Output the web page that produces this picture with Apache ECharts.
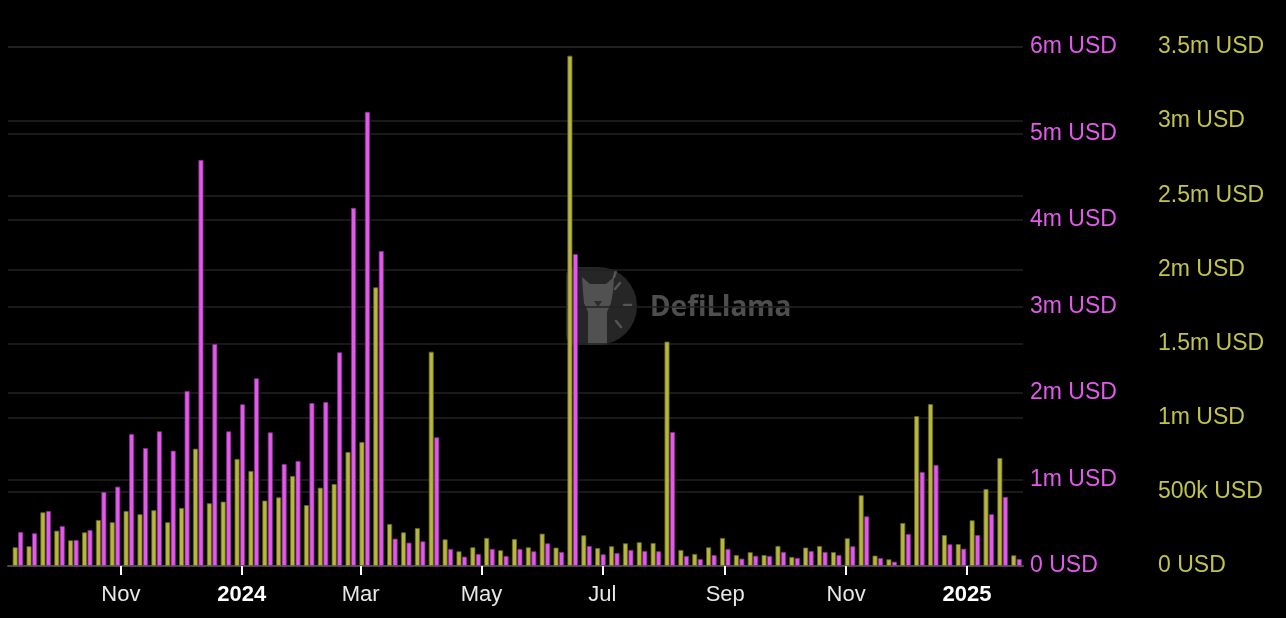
<!DOCTYPE html>
<html>
<head>
<meta charset="utf-8">
<style>
  html, body { margin: 0; padding: 0; background: #000; }
  #chart { width: 1286px; height: 618px; }
</style>
<script src="https://cdn.jsdelivr.net/npm/echarts@6/dist/echarts.min.js"></script>
</head>
<body>
<div id="chart"></div>
<script>
// Weekly dates (UTC)
const weeks = [
  '2023-09-10','2023-09-17','2023-09-24','2023-10-01','2023-10-08','2023-10-15','2023-10-22','2023-10-29',
  '2023-11-05','2023-11-12','2023-11-19','2023-11-26','2023-12-03','2023-12-10','2023-12-17','2023-12-24','2023-12-31',
  '2024-01-07','2024-01-14','2024-01-21','2024-01-28','2024-02-04','2024-02-11','2024-02-18','2024-02-25',
  '2024-03-03','2024-03-10','2024-03-17','2024-03-24','2024-03-31','2024-04-07','2024-04-14','2024-04-21','2024-04-28',
  '2024-05-05','2024-05-12','2024-05-19','2024-05-26','2024-06-02','2024-06-09','2024-06-16','2024-06-23','2024-06-30',
  '2024-07-07','2024-07-14','2024-07-21','2024-07-28','2024-08-04','2024-08-11','2024-08-18','2024-08-25',
  '2024-09-01','2024-09-08','2024-09-15','2024-09-22','2024-09-29','2024-10-06','2024-10-13','2024-10-20','2024-10-27',
  '2024-11-03','2024-11-10','2024-11-17','2024-11-24','2024-12-01','2024-12-08','2024-12-15','2024-12-22','2024-12-29',
  '2025-01-05','2025-01-12','2025-01-19','2025-01-26'
];

// Olive series (right outer axis), USD
const oliveValues = [
  126000,133000,362000,238000,173000,227000,310000,295000,
  371000,349000,376000,295000,391000,791000,423000,434000,722000,
  641000,441000,463000,607000,411000,528000,553000,769000,
  836000,1879000,283000,227000,256000,1445000,180000,99000,126000,
  189000,106000,182000,126000,218000,124000,3441000,207000,121000,
  133000,153000,160000,155000,1513000,108000,81000,126000,
  189000,74000,93000,74000,135000,61000,124000,135000,94000,
  187000,477000,70000,45000,290000,1011000,1092000,209000,148000,
  308000,519000,728000,72000
];

// Magenta series (right inner axis), USD
const magentaValues = [
  393000,378000,636000,462000,300000,416000,855000,917000,
  1526000,1364000,1557000,1333000,2023000,4694000,2566000,1557000,1869000,
  2170000,1545000,1179000,1214000,1884000,1896000,2470000,4140000,
  5250000,3640000,316000,270000,285000,1488000,197000,108000,139000,
  197000,116000,197000,170000,262000,162000,3607000,231000,135000,
  150000,185000,173000,170000,1549000,116000,81000,127000,
  197000,85000,118000,116000,162000,92000,173000,162000,127000,
  228000,574000,92000,50000,370000,1087000,1168000,251000,200000,
  358000,598000,798000,81000
];

const xTickDates  = ['2023-11-01','2024-01-01','2024-03-01','2024-05-01','2024-07-01','2024-09-01','2024-11-01','2025-01-01'];
const xTickLabels = ['Nov','2024','Mar','May','Jul','Sep','Nov','2025'];
const xTickBold   = [false,true,false,false,false,false,false,true];

const magentaTicks = { max: 6000000, interval: 1000000 };
const oliveTicks = { max: 3500000, interval: 500000 };

function ts(s) { const p = s.split('-').map(Number); return Date.UTC(p[0], p[1]-1, p[2]); }
const tickTs = xTickDates.map(ts);

function fmtUSD(v) {
  if (v === 0) return '0 USD';
  if (v >= 1e6) return (v / 1e6) + 'm USD';
  return (v / 1e3) + 'k USD';
}

const OLIVE = '#B7B73F';
const MAGENTA = '#E15AEA';
const FONT = 'Liberation Sans';

// watermark radial ticks around the logo
const wmTicks = [[615,289,620,283],[624,305,631,305],[616,321,621,327],[614,277,616,271]];

const chart = echarts.init(document.getElementById('chart'), null, { renderer: 'canvas' });
chart.setOption({
  backgroundColor: '#000',
  animation: false,
  grid: { left: 8, right: 263, top: 47, bottom: 52, containLabel: false },
  xAxis: {
    type: 'value',
    min: Date.UTC(2023, 8, 5),
    max: Date.UTC(2025, 0, 29, 7),
    axisLine: { show: true, lineStyle: { color: '#4a4a4a', width: 2 } },
    axisTick: { show: true, customValues: tickTs, length: 9, lineStyle: { color: '#ffffff', width: 2 } },
    axisLabel: {
      customValues: tickTs,
      margin: 18,
      color: '#e8e8e8',
      fontFamily: FONT,
      fontSize: 22,
      formatter: function (val) {
        let idx = -1;
        for (let i = 0; i < tickTs.length; i++) if (Math.abs(tickTs[i] - val) < 86400000) idx = i;
        if (idx < 0) return '';
        return xTickBold[idx] ? '{b|' + xTickLabels[idx] + '}' : '{n|' + xTickLabels[idx] + '}';
      },
      rich: {
        b: { fontWeight: 'bold', color: '#ffffff', fontFamily: FONT, fontSize: 22 },
        n: { color: '#e8e8e8', fontFamily: FONT, fontSize: 22 }
      }
    },
    splitLine: { show: false }
  },
  yAxis: [
    {
      type: 'value',
      position: 'right',
      min: 0,
      max: magentaTicks.max,
      interval: magentaTicks.interval,
      axisLine: { show: false },
      axisTick: { show: false },
      axisLabel: { color: MAGENTA, fontFamily: FONT, fontSize: 23, margin: 7, padding: [3, 0, 0, 0], formatter: fmtUSD },
      splitLine: { show: true, lineStyle: { color: '#222222', width: 1.5 } }
    },
    {
      type: 'value',
      position: 'right',
      offset: 128,
      min: 0,
      max: oliveTicks.max,
      interval: oliveTicks.interval,
      axisLine: { show: false },
      axisTick: { show: false },
      axisLabel: { color: '#C3C34A', fontFamily: FONT, fontSize: 23, margin: 7, padding: [3, 0, 0, 0], formatter: fmtUSD },
      splitLine: { show: true, lineStyle: { color: '#222222', width: 1.5 } }
    }
  ],
  graphic: [
    {
      type: 'group',
      z: 0,
      children: [
        { type: 'rect', shape: { x: 566, y: 267, width: 71, height: 78, r: [9, 39, 39, 9] },
          style: { fill: 'rgba(255,255,255,0.15)' } },
        { type: 'polygon', shape: { points: [[588,345],[588,312],[584,303],[583,292],[582,277],[590,284],[606,284],[614,277],[613,292],[611,303],[607,312],[607,345]] },
          style: { fill: 'rgba(255,255,255,0.2)' } },
        { type: 'polygon', shape: { points: [[594,301],[602,301],[598,307]] },
          style: { fill: 'rgba(0,0,0,0.45)' } }
      ].concat(wmTicks.map(t => ({ type: 'line', shape: { x1: t[0], y1: t[1], x2: t[2], y2: t[3] },
          style: { stroke: 'rgba(255,255,255,0.22)', lineWidth: 2.5, lineCap: 'round' } })))
       .concat([
        { type: 'text', style: { x: 650, y: 308, text: 'DefiLlama', fill: '#4e4e4e',
          font: 'bold 28px "Noto Sans"', verticalAlign: 'middle' } }
      ])
    }
  ],
  series: [
    {
      name: 'Olive',
      type: 'bar',
      yAxisIndex: 1,
      barWidth: 5,
      barGap: '10%',
      itemStyle: { color: OLIVE, borderColor: '#66661f', borderWidth: 0.8 },
      data: weeks.map((d, i) => [ts(d), oliveValues[i]])
    },
    {
      name: 'Magenta',
      type: 'bar',
      yAxisIndex: 0,
      barWidth: 5,
      barGap: '10%',
      itemStyle: { color: MAGENTA, borderColor: '#83308a', borderWidth: 0.8 },
      data: weeks.map((d, i) => [ts(d), magentaValues[i]])
    }
  ]
});
</script>
</body>
</html>
